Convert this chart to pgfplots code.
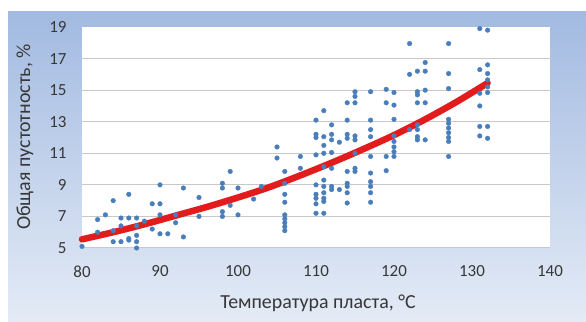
\documentclass[border=0pt]{standalone}
\usepackage{fontspec}
\setmainfont{Carlito}
\usepackage{pgfplots}
\pgfplotsset{compat=1.18}
\definecolor{bgtop}{RGB}{162,186,225}
\definecolor{bgbot}{RGB}{228,235,246}
\definecolor{pts}{RGB}{74,126,187}
\definecolor{trend}{RGB}{226,28,28}
\definecolor{gridc}{RGB}{200,200,200}
\definecolor{txt}{RGB}{55,55,55}
\begin{document}
\begin{tikzpicture}
\fill[white] (0bp,0bp) rectangle (586bp,322bp);
\shade[top color=bgtop, bottom color=bgbot] (8bp,0bp) rectangle (586bp,310bp);
\begin{axis}[
  at={(82bp,74bp)}, anchor=south west,
  scale only axis, width=468bp, height=221bp,
  xmin=80, xmax=140, ymin=5, ymax=19,
  xtick={80,90,...,140}, ytick={5,7,...,17},
  extra y ticks={19}, extra y tick style={grid=none},
  ymajorgrids, grid style={gridc, line width=1bp},
  axis line style={draw=none},
  major tick length=0pt,
  axis background/.style={fill=white},
  /pgf/number format/assume math mode=true,
  tick label style={font=\fontsize{17}{17}\selectfont, text=txt},
  xticklabel style={yshift=-14bp},
  yticklabel style={xshift=-12bp},
  clip=false,
]
\addplot[only marks, mark=*, mark size=2.3bp, color=pts, mark options={draw=pts, fill=pts}] table {
x y
80 5.1
82 6.8
82 6.0
83 7.1
84 8.0
84 6.1
84 5.4
85 6.9
85 6.4
85 5.4
86 8.4
86 6.9
86 5.5
86 5.6
87 6.9
87 6.4
87 5.8
87 5.4
87 5.0
88 6.7
89 7.8
89 6.2
90 9.0
90 7.8
90 7.1
90 5.9
91 5.9
92 7.1
92 6.6
93 8.8
93 5.7
95 8.2
95 7.0
98 9.1
98 8.8
98 7.3
98 7.0
99 9.85
99 7.7
100 8.8
100 7.1
102 8.1
103 8.9
105 11.4
105 10.7
106 9.85
106 9.1
106 8.4
106 7.9
106 7.1
106 6.85
106 6.6
106 6.35
106 6.1
108 10.8
108 10.05
110 13.1
110 12.2
110 12.0
110 10.9
110 9.0
110 8.4
110 8.15
110 7.8
110 7.2
111 13.7
111 12.05
111 11.5
111 11.0
111 10.15
111 9.3
111 8.9
111 8.5
111 8.15
111 7.95
111 7.2
112 12.8
112 12.2
112 11.85
112 11.05
112 10.05
112 8.9
112 8.7
113 11.7
113 8.7
114 14.2
114 13.1
114 12.2
114 11.95
114 9.85
114 9.1
114 8.9
114 8.5
114 7.85
115 14.9
115 14.6
115 14.2
115 12.1
115 11.85
115 11.0
115 10.05
115 9.85
117 14.9
117 13.1
117 12.5
117 12.05
117 10.8
117 9.75
117 9.2
117 8.9
117 8.5
117 7.9
119 15.05
119 14.2
119 10.8
119 9.9
120 14.85
120 14.05
120 13.15
120 12.1
120 11.75
120 11.4
120 11.1
120 10.8
122 17.95
122 16.0
122 12.5
123 16.2
123 14.9
123 14.7
123 14.2
123 12.8
123 12.5
123 12.05
123 11.85
124 16.75
124 16.2
124 15.0
124 14.2
124 11.85
127 17.95
127 16.05
127 15.1
127 13.15
127 12.9
127 12.6
127 12.3
127 12.0
127 11.75
127 10.8
131 18.9
131 16.3
131 14.8
131 14.0
131 12.7
131 12.1
132 18.8
132 16.6
132 16.05
132 15.65
132 15.2
132 14.85
132 12.7
132 11.95
};
\addplot[trend, line width=6.5bp, smooth, line cap=round] coordinates {
(80,5.55) (84,6.0) (88,6.5) (92,7.05) (96,7.6) (100,8.2) (104,8.85)
(108,9.6) (112,10.4) (116,11.25) (120,12.15) (124,13.15) (128,14.25) (132,15.45)
};
\end{axis}
\node[rotate=90, text=txt, font=\fontsize{20}{20}\selectfont] at (25bp,185bp) {Общая пустотность, \%};
\node[text=txt, font=\fontsize{20}{20}\selectfont] at (318bp,19bp) {Температура пласта, °C};
\end{tikzpicture}
\end{document}
